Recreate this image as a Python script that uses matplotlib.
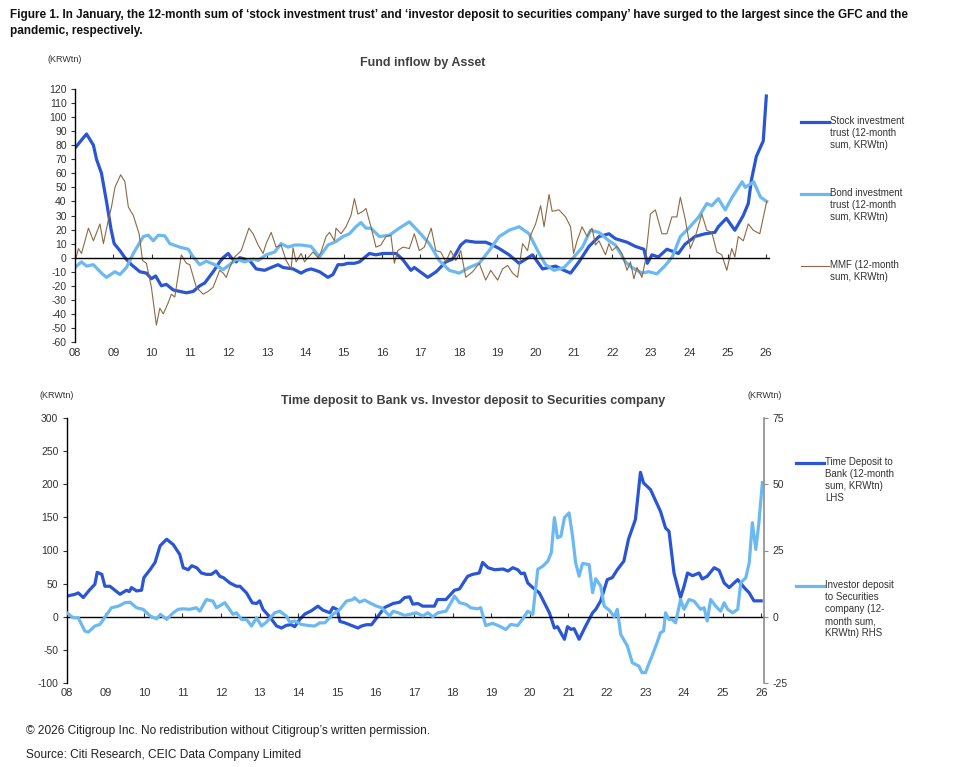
import matplotlib
matplotlib.use('Agg')
import matplotlib.pyplot as plt
from matplotlib.lines import Line2D
from matplotlib import font_manager

# pick a narrow face if it is around
names = {f.name for f in font_manager.fontManager.ttflist}
NARROW = 'Liberation Sans Narrow' if 'Liberation Sans Narrow' in names else 'Liberation Sans'
WIDE = 'Liberation Sans'
plt.rcParams['font.family'] = [NARROW, 'DejaVu Sans']
plt.rcParams['axes.unicode_minus'] = False

DARK = '#2a55d4'
LIGHT = '#6cb9f2'
BROWN = '#8c6a45'
GREY = '#333333'

# ---------------- data: top chart (KRWtn, 12-month sums) ----------------
stock_t = [2008.00, 2008.30, 2008.48, 2008.56, 2008.69, 2008.82, 2008.94, 2009.02, 2009.17, 2009.30,
           2009.47, 2009.69, 2009.86, 2009.99, 2010.10, 2010.25, 2010.38, 2010.56, 2010.73, 2010.90,
           2011.08, 2011.25, 2011.38, 2011.60, 2011.77, 2011.86, 2011.99, 2012.07, 2012.20, 2012.29,
           2012.55, 2012.72, 2012.94, 2013.11, 2013.29, 2013.42, 2013.68, 2013.89, 2014.02, 2014.15,
           2014.37, 2014.59, 2014.72, 2014.85, 2014.98, 2015.11, 2015.28, 2015.41, 2015.67, 2015.84,
           2016.02, 2016.36, 2016.53, 2016.75, 2016.84, 2017.19, 2017.41, 2017.66, 2017.84, 2018.05,
           2018.18, 2018.44, 2018.70, 2018.88, 2019.05, 2019.31, 2019.57, 2019.92, 2020.18, 2020.52,
           2020.74, 2020.91, 2021.13, 2021.39, 2021.65, 2021.91, 2022.08, 2022.38, 2022.60, 2022.82,
           2022.91, 2023.03, 2023.20, 2023.42, 2023.72, 2023.89, 2024.15, 2024.41, 2024.67, 2024.76,
           2024.97, 2025.19, 2025.41, 2025.54, 2025.62, 2025.75, 2025.93, 2026.01]
stock_v = [78, 88, 80, 70, 60, 40, 20, 10, 5, 0,
           -5, -10, -11, -15, -13, -20, -19, -23, -24, -25,
           -24, -20, -18, -10, -3, 0, 3, 0, -3, 0,
           -2, -8, -9, -7, -5, -7, -8, -11, -9, -8,
           -10, -14, -12, -5, -5, -4, -4, -3, 3, 2,
           3, 3, -1, -9, -7, -14, -10, -3, -1, 9,
           12, 11, 11, 9, 6.5, 2, -4, 2, -8, -6,
           -9, -11, -3, 8, 15, 17, 13.5, 11, 8, 6,
           -4, 2, 0.5, 6, 3, 9.5, 15, 17, 18, 22,
           28, 19.5, 30, 38.5, 55, 72, 83, 115]

bond_t = [2008.00, 2008.17, 2008.30, 2008.48, 2008.69, 2008.82, 2009.04, 2009.17, 2009.34, 2009.52,
          2009.78, 2009.91, 2010.04, 2010.17, 2010.34, 2010.47, 2010.73, 2010.95, 2011.08, 2011.25,
          2011.42, 2011.64, 2011.86, 2012.03, 2012.20, 2012.42, 2012.64, 2012.77, 2012.98, 2013.20,
          2013.37, 2013.55, 2013.72, 2013.89, 2014.15, 2014.37, 2014.59, 2014.80, 2014.98, 2015.15,
          2015.32, 2015.45, 2015.58, 2015.71, 2015.93, 2016.19, 2016.45, 2016.71, 2016.97, 2017.23,
          2017.49, 2017.75, 2018.01, 2018.27, 2018.53, 2018.79, 2019.05, 2019.31, 2019.57, 2019.83,
          2020.09, 2020.26, 2020.48, 2020.74, 2021.00, 2021.22, 2021.43, 2021.65, 2021.91, 2022.08,
          2022.34, 2022.51, 2022.77, 2022.95, 2023.16, 2023.38, 2023.56, 2023.77, 2023.99, 2024.25,
          2024.46, 2024.59, 2024.76, 2024.94, 2025.12, 2025.38, 2025.46, 2025.68, 2025.86, 2026.02]
bond_v = [-7, -3, -6, -5, -11, -14, -10, -12, -7, 3,
          15, 16, 12, 16, 15.5, 10, 7.5, 6, 0.5, -5,
          -2.5, -5, -8.5, -5, -1, -3, -1, -2, 2, 4,
          10, 7.5, 9, 9, 8, 0.5, 9, 11.5, 15, 17,
          22, 25, 21, 21, 15, 16, 21, 25.5, 18, 10,
          -2, -9, -11, -7, -4, 5, 15, 19.5, 22, 17,
          3, -5, -9, -7, 0.5, 7.5, 19.5, 18, 12, 9,
          -3, -7, -11, -10, -11.5, -5.5, 0.5, 15, 21, 29,
          38.5, 37, 42, 34, 43, 54, 50, 54, 43, 40]

mmf_t = [2008.00, 2008.09, 2008.17, 2008.35, 2008.48, 2008.65, 2008.74, 2008.87, 2008.95, 2009.04,
         2009.19, 2009.30, 2009.39, 2009.52, 2009.67, 2009.76, 2009.86, 2009.99, 2010.12, 2010.21,
         2010.30, 2010.43, 2010.51, 2010.60, 2010.77, 2010.90, 2010.99, 2011.16, 2011.34, 2011.47,
         2011.60, 2011.77, 2011.86, 2011.94, 2012.03, 2012.16, 2012.33, 2012.53, 2012.64, 2012.77,
         2012.90, 2012.98, 2013.11, 2013.24, 2013.37, 2013.50, 2013.63, 2013.68, 2013.76, 2013.89,
         2013.98, 2014.07, 2014.20, 2014.33, 2014.41, 2014.54, 2014.63, 2014.76, 2014.80, 2014.93,
         2015.06, 2015.19, 2015.28, 2015.37, 2015.50, 2015.58, 2015.71, 2015.84, 2015.97, 2016.10,
         2016.23, 2016.32, 2016.41, 2016.54, 2016.71, 2016.84, 2016.97, 2017.10, 2017.28, 2017.40,
         2017.53, 2017.66, 2017.79, 2017.92, 2018.05, 2018.18, 2018.36, 2018.53, 2018.70, 2018.83,
         2019.01, 2019.14, 2019.27, 2019.40, 2019.53, 2019.66, 2019.79, 2019.87, 2020.00, 2020.13,
         2020.22, 2020.35, 2020.43, 2020.61, 2020.78, 2020.91, 2020.99, 2021.08, 2021.21, 2021.34,
         2021.47, 2021.56, 2021.65, 2021.82, 2021.91, 2021.99, 2022.12, 2022.25, 2022.38, 2022.47,
         2022.56, 2022.64, 2022.77, 2022.86, 2022.99, 2023.12, 2023.29, 2023.42, 2023.55, 2023.68,
         2023.77, 2023.90, 2024.03, 2024.16, 2024.33, 2024.46, 2024.59, 2024.72, 2024.85, 2024.98,
         2025.11, 2025.19, 2025.28, 2025.41, 2025.54, 2025.67, 2025.84, 2026.02]
mmf_v = [-3, 6.5, 3, 21, 12, 24, 10, 27, 36, 50,
         59, 54, 36, 30, 17, -2, -4, -21, -48, -36,
         -40, -32, -26, -28, 2, -4, -5, -21, -26, -24,
         -21, -9, -11, -14, -7, 0.5, 5, 21, 17, 9,
         3, 10, 18, 7.5, 9, -2, -8, 7, -3, 3,
         -3, 0, 4, 0, 4, 15, 18, 12, 21, 17,
         22, 30, 42, 31, 33, 35, 22, 7.5, 9, 15,
         16, -4, 5, 7.5, 6.5, 17, 5, 7.5, 21, 5,
         4, -3, 5, -2, 5, -14, -10, -4, -16, -9,
         -16, -8, -5.5, -11, -14, 10, 5, 16, 24, 37,
         22, 45, 33, 34, 29, 22, 3, 12, 22, 15,
         21, 9, 12, 2, 10, 5, 8, 3, -9, -3,
         -15, -7, -14, -2, 31, 34, 17, 17, 29, 29,
         43, 27, 6.5, 15, 31, 19.5, 18, 4, 2, -9,
         6.5, 0.5, 15, 12, 24, 19.5, 17, 40]

# ---------------- data: bottom chart ----------------
# time deposit to bank, KRWtn (LHS)
tdep_t = [2008.00, 2008.22, 2008.30, 2008.43, 2008.60, 2008.73, 2008.79, 2008.91, 2008.99, 2009.12,
          2009.38, 2009.55, 2009.62, 2009.68, 2009.81, 2009.94, 2010.00, 2010.16, 2010.29, 2010.42,
          2010.59, 2010.76, 2010.93, 2011.02, 2011.15, 2011.24, 2011.37, 2011.49, 2011.62, 2011.75,
          2011.87, 2011.97, 2012.06, 2012.23, 2012.40, 2012.49, 2012.66, 2012.81, 2012.92, 2013.00,
          2013.09, 2013.26, 2013.44, 2013.57, 2013.69, 2013.82, 2013.91, 2014.04, 2014.17, 2014.34,
          2014.51, 2014.64, 2014.82, 2014.90, 2015.01, 2015.08, 2015.20, 2015.33, 2015.55, 2015.64,
          2015.77, 2015.90, 2016.07, 2016.24, 2016.46, 2016.63, 2016.76, 2016.89, 2016.97, 2017.10,
          2017.23, 2017.53, 2017.61, 2017.83, 2018.05, 2018.18, 2018.39, 2018.52, 2018.69, 2018.78,
          2018.92, 2019.09, 2019.31, 2019.44, 2019.56, 2019.69, 2019.78, 2019.86, 2019.95, 2020.08,
          2020.25, 2020.38, 2020.51, 2020.64, 2020.72, 2020.90, 2020.98, 2021.07, 2021.15, 2021.28,
          2021.45, 2021.63, 2021.71, 2021.84, 2022.01, 2022.14, 2022.27, 2022.44, 2022.56, 2022.74,
          2022.87, 2022.95, 2023.13, 2023.39, 2023.52, 2023.61, 2023.74, 2023.83, 2023.91, 2024.00,
          2024.09, 2024.22, 2024.39, 2024.47, 2024.60, 2024.78, 2024.91, 2025.04, 2025.17, 2025.39,
          2025.56, 2025.69, 2025.81, 2026.00]
tdep_v = [31, 34, 36, 29, 41, 49, 67, 64, 46, 46,
          34, 40, 38, 44, 39, 40, 59, 71, 82, 107,
          117, 109, 94, 74, 71, 77, 74, 66, 64, 64,
          69, 61, 59, 51, 46, 46, 36, 21, 20, 24,
          11, 0, -14, -17, -13, -12, -15, -4, 4, 9,
          16, 10, 6, 14, 11, -7, -9, -12, -17, -14,
          -12, -12, 1, 14, 20, 22, 29, 30, 19, 20,
          16, 16, 26, 26, 40, 42, 61, 64, 66, 82,
          74, 71, 72, 69, 74, 71, 65, 66, 51, 44,
          36, 21, 6, -17, -15, -34, -15, -19, -18, -34,
          -14, 6, 11, 24, 56, 59, 71, 84, 117, 147,
          218, 202, 192, 159, 134, 129, 66, 46, 29, 46,
          66, 62, 66, 57, 61, 74, 70, 51, 44, 56,
          44, 36, 24, 24]

# investor deposit to securities company, KRWtn (RHS)
invd_t = [2008.00, 2008.17, 2008.30, 2008.47, 2008.56, 2008.73, 2008.86, 2009.04, 2009.16, 2009.34,
          2009.51, 2009.64, 2009.81, 2009.98, 2010.16, 2010.33, 2010.43, 2010.59, 2010.76, 2010.89,
          2011.02, 2011.19, 2011.36, 2011.45, 2011.62, 2011.79, 2011.88, 2012.10, 2012.31, 2012.40,
          2012.53, 2012.66, 2012.79, 2012.92, 2013.05, 2013.18, 2013.39, 2013.52, 2013.69, 2013.78,
          2013.91, 2014.08, 2014.26, 2014.43, 2014.56, 2014.69, 2014.90, 2015.08, 2015.25, 2015.42,
          2015.46, 2015.59, 2015.72, 2015.85, 2016.03, 2016.16, 2016.37, 2016.46, 2016.59, 2016.76,
          2016.89, 2017.06, 2017.23, 2017.36, 2017.49, 2017.62, 2017.83, 2017.96, 2018.05, 2018.18,
          2018.35, 2018.47, 2018.65, 2018.73, 2018.86, 2019.04, 2019.21, 2019.38, 2019.51, 2019.69,
          2019.81, 2019.95, 2020.08, 2020.21, 2020.34, 2020.47, 2020.56, 2020.64, 2020.72, 2020.81,
          2020.90, 2021.02, 2021.11, 2021.19, 2021.28, 2021.37, 2021.54, 2021.63, 2021.71, 2021.84,
          2021.93, 2022.06, 2022.19, 2022.27, 2022.36, 2022.53, 2022.66, 2022.83, 2022.91, 2023.00,
          2023.08, 2023.17, 2023.30, 2023.39, 2023.47, 2023.52, 2023.61, 2023.69, 2023.78, 2023.91,
          2024.00, 2024.13, 2024.26, 2024.43, 2024.52, 2024.60, 2024.69, 2024.82, 2024.95, 2025.04,
          2025.13, 2025.26, 2025.39, 2025.47, 2025.60, 2025.69, 2025.77, 2025.86, 2025.94, 2026.03]
invd_v = [1.5, -0.4, -0.4, -5.4, -5.8, -3.5, -2.9, 0.9, 3.4, 4,
          5.3, 5.5, 3.4, 2.8, 0.3, -0.8, 0.9, -1, 1.5, 2.8,
          3, 2.8, 3.4, 2.1, 6.5, 5.9, 3.4, 5.3, 0.9, 1.5,
          -1, -1, -3.5, -0.4, -3.5, -2, 1.5, 2.1, 0.3, -2,
          -1.6, -2.9, -3.3, -3.5, -2.3, -2.3, 0.9, 2.8, 5.9, 6.5,
          7.2, 5.5, 6.3, 5.3, 4, 3.4, 0.3, 2.1, 1.5, 0.5,
          0.9, 1.5, 0.3, 1.5, 0, 1.5, 2.1, 5.3, 7.8, 5.3,
          4.7, 3.4, 3, 3.4, -3.3, -2.5, -3.5, -4.8, -2.9, -3.3,
          -1, 2.1, 0.9, 17.9, 19.1, 21, 24.2, 37.4, 29.8, 30.4,
          37.4, 39.2, 30.4, 20.4, 15.3, 20.1, 19.7, 9.1, 14.3, 11.6,
          4, 2.5, 0, 2.8, -6.7, -11, -17.4, -18.6, -21.1, -21.1,
          -18, -14.8, -9.8, -6, -5.4, 1.5, -1, -1, -2.3, 6.5,
          2.8, 6.5, 5.9, 2.8, 3.4, -1.6, 6.5, 4, 2.1, 5.3,
          2.8, 1.5, 2.8, 12.8, 14.7, 20.4, 35.5, 25.4, 35.5, 50.6]

years = list(range(2008, 2027))
year_labels = ['%02d' % (y % 100) for y in years]

stock_lbl = 'Stock investment\ntrust (12-month\nsum, KRWtn)'
bond_lbl = 'Bond investment\ntrust (12-month\nsum, KRWtn)'
mmf_lbl = 'MMF (12-month\nsum, KRWtn)'
tdep_lbl = 'Time Deposit to\nBank (12-month\nsum, KRWtn)\nLHS'
invd_lbl = 'Investor deposit\nto Securities\ncompany (12-\nmonth sum,\nKRWtn) RHS'

W, H = 954, 767
fig = plt.figure(figsize=(W / 100, H / 100), dpi=100)


def fx(px):
    return px / W


def fy(py):
    return 1 - py / H


def style_axis(ax, ymin, ymax, step, label_gap_px):
    ax.set_ylim(ymin, ymax)
    ax.set_yticks(range(ymin, ymax + 1, step))
    ax.set_xlim(2008, 2026.08)
    ax.set_xticks(years)
    ax.set_xticklabels(year_labels)
    for s in ['top', 'right']:
        ax.spines[s].set_visible(False)
    ax.spines['bottom'].set_position(('data', 0))
    ax.spines['bottom'].set_linewidth(1.0)
    ax.spines['left'].set_linewidth(1.0)
    # tick labels sit below the plot, ticks stay on the zero line
    hpx = ax.get_position().height * H
    pad = ((0 - ymin) / (ymax - ymin) * hpx + label_gap_px) * 0.72
    ax.tick_params(axis='x', direction='in', length=3, pad=pad, labelsize=8, colors=GREY)
    ax.tick_params(axis='y', direction='out', length=3, labelsize=7.5, colors=GREY, pad=3)
    ax.patch.set_alpha(0)


# ---------------- top chart ----------------
ax1 = fig.add_axes([fx(75), fy(342), fx(694), (342 - 89) / H])
ax1.plot(stock_t, stock_v, color=DARK, lw=2.3, solid_joinstyle='round')
ax1.plot(bond_t, bond_v, color=LIGHT, lw=2.3, solid_joinstyle='round')
ax1.plot(mmf_t, mmf_v, color=BROWN, lw=0.8)
style_axis(ax1, -60, 120, 10, 6)

fig.text(fx(48), fy(60), '(KRWtn)', fontsize=6.5, color=GREY, va='center')
fig.text(fx(423), fy(63), 'Fund inflow by Asset', fontsize=9, fontweight='bold',
         color='#404040', ha='center', va='center', family=WIDE)

# ---------------- bottom chart ----------------
ax2 = fig.add_axes([fx(66.7), fy(683), fx(697.6), (683 - 418) / H])
ax2.plot(tdep_t, tdep_v, color=DARK, lw=2.3, solid_joinstyle='round')
style_axis(ax2, -100, 300, 50, 5)

ax3 = ax2.twinx()
ax3.plot(invd_t, invd_v, color=LIGHT, lw=2.3, solid_joinstyle='round')
ax3.set_ylim(-25, 75)
ax3.set_yticks([-25, 0, 25, 50, 75])
for s in ['top', 'left', 'bottom']:
    ax3.spines[s].set_visible(False)
ax3.spines['right'].set_color('#8c8c8c')
ax3.spines['right'].set_linewidth(1.2)
ax3.tick_params(axis='y', direction='out', length=3, labelsize=7.5, colors=GREY, pad=3)
ax3.tick_params(axis='y', color='#8c8c8c')

fig.text(fx(40), fy(396), '(KRWtn)', fontsize=6.5, color=GREY, va='center')
fig.text(fx(748), fy(396), '(KRWtn)', fontsize=6.5, color=GREY, va='center')
fig.text(fx(473), fy(401), 'Time deposit to Bank vs. Investor deposit to Securities company',
         fontsize=9, fontweight='bold', color='#404040', ha='center', va='center', family=WIDE)

# ---------------- legends (drawn by hand, handle on first text line) ----------------
def legend_entry(x0, y0, color, lw, label):
    fig.add_artist(Line2D([fx(x0), fx(x0 + 28)], [fy(y0), fy(y0)], color=color, lw=lw))
    fig.text(fx(x0 + 29), fy(y0 - 6), label, fontsize=7, color=GREY, va='top',
             linespacing=1.25)


legend_entry(801, 122, DARK, 2.3, stock_lbl)
legend_entry(801, 194, LIGHT, 2.3, bond_lbl)
legend_entry(801, 266, BROWN, 0.8, mmf_lbl)
legend_entry(796, 463, DARK, 2.3, tdep_lbl)
legend_entry(796, 586, LIGHT, 2.3, invd_lbl)

# ---------------- header / footer ----------------
title = ("Figure 1. In January, the 12-month sum of \u2018stock investment trust\u2019 and "
         "\u2018investor deposit to securities company\u2019 have surged to the largest since the GFC and the\n"
         "pandemic, respectively.")
tsize = 10.5 if NARROW != WIDE else 8.5
fig.text(fx(10), fy(9), title, fontsize=tsize, fontweight='bold', color='#111111',
         va='top', linespacing=1.4)

fsize = 9.5 if NARROW != WIDE else 8.6
fig.text(fx(26), fy(731), '\u00a9 2026 Citigroup Inc. No redistribution without Citigroup\u2019s written permission.',
         fontsize=fsize, color='#222222', va='center')
fig.text(fx(26), fy(755), 'Source: Citi Research, CEIC Data Company Limited',
         fontsize=fsize, color='#222222', va='center')

fig.savefig('out.png', dpi=100, facecolor='white')
